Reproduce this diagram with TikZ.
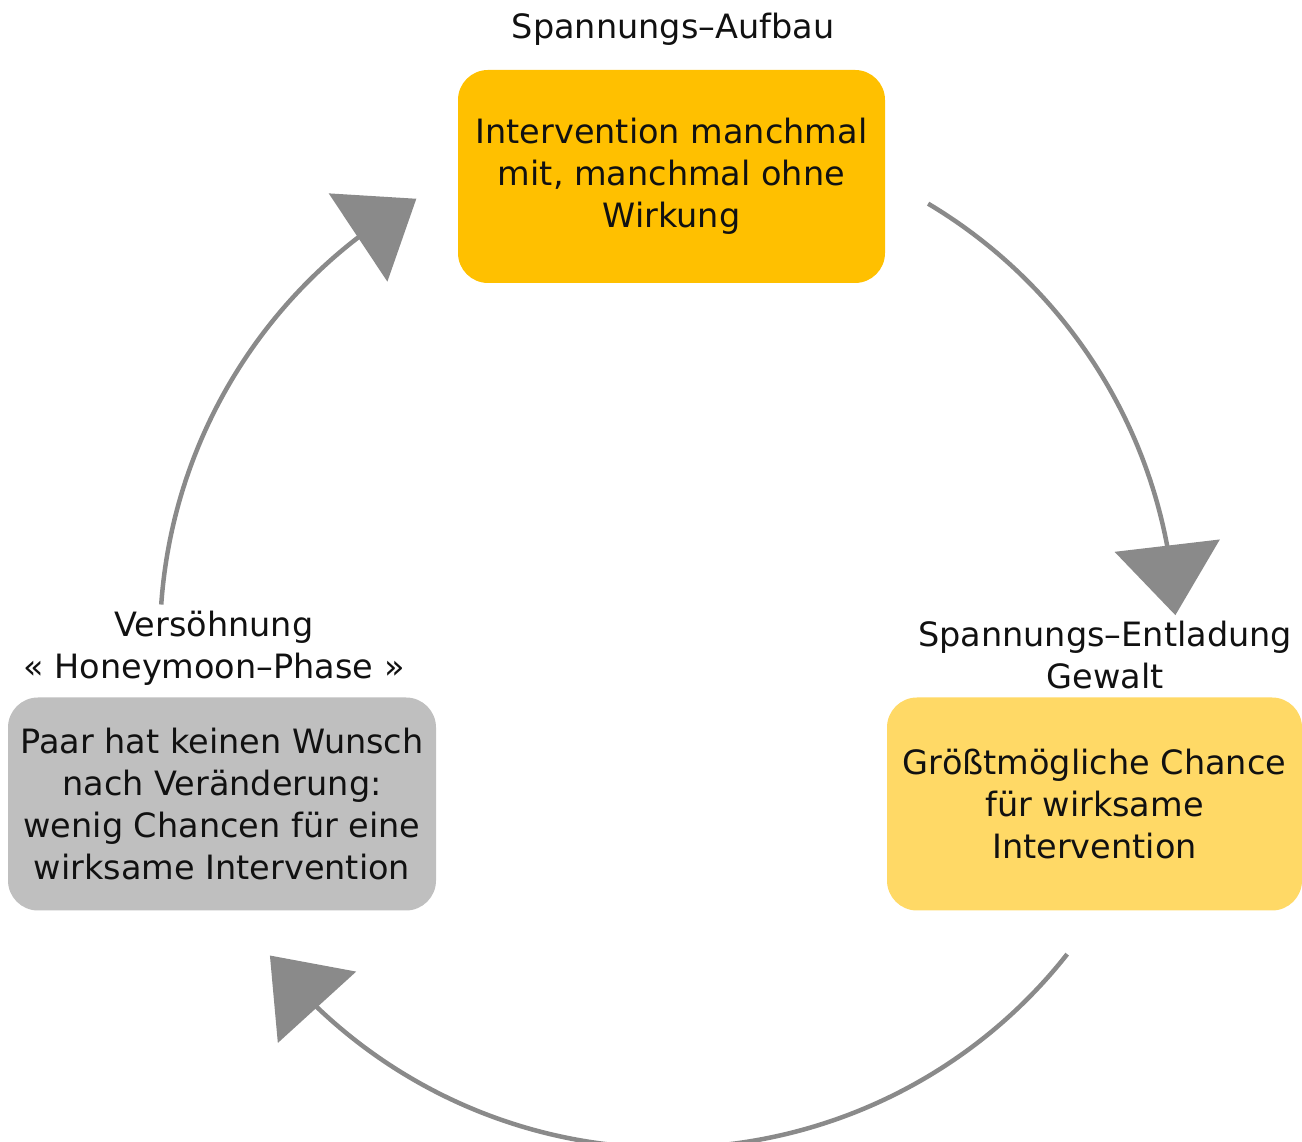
\documentclass[tikz,border=0pt]{standalone}
\usepackage{fontspec}
\setmainfont{DejaVu Sans}
\usetikzlibrary{arrows.meta,bending,calc}
\definecolor{ink}{HTML}{111111}
\definecolor{amber}{HTML}{FFC000}
\definecolor{sand}{HTML}{FFD966}
\definecolor{stone}{HTML}{BFBFBF}
\definecolor{arrowgray}{HTML}{8A8A8A}
\tikzset{
  every node/.style={text=ink,font=\fontsize{33.5}{42}\selectfont},
  phase/.style={rounded corners=30pt,align=center,minimum width=427pt,minimum height=213pt,inner sep=0pt},
  buildup/.style={phase,fill=amber},
  outburst/.style={phase,fill=sand,minimum width=415pt},
  calm/.style={phase,fill=stone,minimum width=428pt},
  phaselabel/.style={align=center,inner sep=0pt},
  cyclearr/.style={-{Triangle[length=70pt,width=105pt]},line width=4.5pt,draw=arrowgray}
}
\begin{document}
\begin{tikzpicture}[x=1pt,y=1pt]
  \useasboundingbox (0,0) rectangle (1302,1142);
  \coordinate (hub) at (668,502);

  % the three phases
  \node[buildup] (aufbau) at (671.5,965.5) {Intervention manchmal\\mit, manchmal ohne\\Wirkung};
  \node[outburst] (entladung) at (1094.5,338) {Größtmögliche Chance\\für wirksame\\Intervention};
  \node[calm] (versoehnung) at (222,338) {Paar hat keinen Wunsch\\nach Veränderung:\\wenig Chancen für eine\\wirksame Intervention};

  \node[phaselabel] (aufbaulabel) at (673,1113) {Spannungs–Aufbau};
  \node[phaselabel] (entladunglabel) at (1105,487) {Spannungs–Entladung\\Gewalt};
  \node[phaselabel] (versoehnunglabel) at (214,494) {Versöhnung\\« Honeymoon–Phase »};

  % cycle arrows on one circle round the hub
  \coordinate (aufbau-out) at ($(hub)+(59.2:508)$);
  \coordinate (entladung-out) at ($(hub)+(-38.2:508)$);
  \coordinate (versoehnung-out) at ($(hub)+(176:508)$);
  \draw[cyclearr] (aufbau-out) arc[start angle=59.2,end angle=2.8,radius=508];
  \draw[cyclearr] (entladung-out) arc[start angle=-38.2,end angle=-141.6,radius=508];
  \draw[cyclearr] (versoehnung-out) arc[start angle=176,end angle=119.7,radius=508];
\end{tikzpicture}
\end{document}
